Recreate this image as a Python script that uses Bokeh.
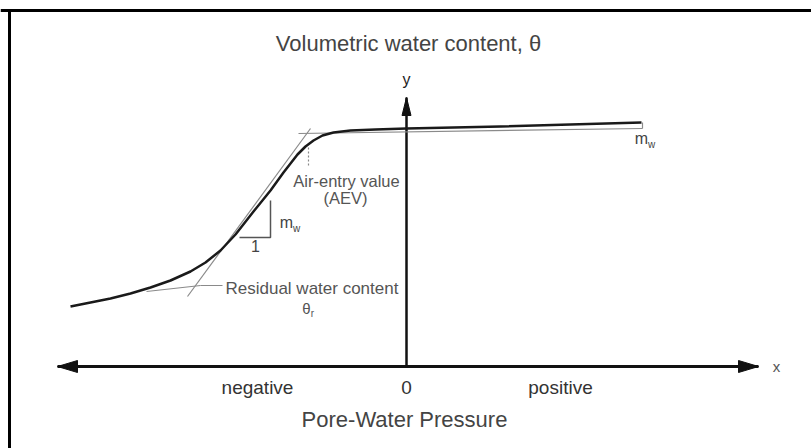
from bokeh.plotting import figure
from bokeh.models import Range1d
from bokeh.core.properties import value
from bokeh.embed import file_html
from bokeh.resources import INLINE

# ---- data (schematic soil-water characteristic curve) ----
# pore-water pressure (x) and volumetric water content (y), arbitrary units
pressure = [-3.36, -3.16, -2.96, -2.76, -2.56, -2.36, -2.16, -2.01, -1.86, -1.71,
            -1.53, -1.36, -1.23, -1.09, -1.01, -0.93, -0.84, -0.73, -0.56, -0.31,
            0.0, 0.94, 2.35]
theta = [0.60, 0.64, 0.68, 0.73, 0.79, 0.86, 0.95, 1.04, 1.16, 1.32,
         1.55, 1.76, 1.94, 2.12, 2.20, 2.26, 2.31, 2.34, 2.36, 2.37,
         2.38, 2.40, 2.44]

# construction lines
steep_tangent_x = [-2.19, -0.96]
steep_tangent_y = [0.70, 2.38]
residual_tangent_x = [-2.60, -2.06]
residual_tangent_y = [0.75, 0.81]
plateau_tangent_x = [-1.08, 2.36]
plateau_tangent_y = [2.33, 2.38]

tick_labels = ["negative", "0", "positive"]
tick_pos = [-1.49, 0.0, 1.54]

FONT = value("Liberation Sans")

p = figure(width=811, height=448, output_backend="svg", toolbar_location=None,
           x_range=Range1d(-4.06, 4.05), y_range=Range1d(-0.82, 3.66),
           min_border=0, outline_line_color=None)
p.axis.visible = False
p.grid.visible = False
p.background_fill_color = "white"
p.border_fill_color = "white"

# frame (top and left edges of the cropped figure)
p.line([-4.06, 4.05], [3.56, 3.56], line_color="black", line_width=3)
p.line([-3.97, -3.97], [3.56, -0.82], line_color="black", line_width=3)

# axes with arrowheads
x_axis_x = [-3.49, 3.52]
y_axis_top = 2.69
p.line(x_axis_x, [0, 0], line_color="#111111", line_width=3)
p.line([0, 0], [0, y_axis_top], line_color="#111111", line_width=2.5)
hl, hw = 0.20, 0.06
p.patch([x_axis_x[0], x_axis_x[0] + hl, x_axis_x[0] + hl],
        [0, hw, -hw], color="#111111")
p.patch([x_axis_x[1], x_axis_x[1] - hl, x_axis_x[1] - hl],
        [0, hw, -hw], color="#111111")
p.patch([0, -0.045, 0.045], [y_axis_top, y_axis_top - 0.18, y_axis_top - 0.18],
        color="#111111")

# construction lines (thin grey)
grey = "#8a8a8a"
p.line(steep_tangent_x, steep_tangent_y, line_color=grey, line_width=1.2)
p.line(residual_tangent_x, residual_tangent_y, line_color=grey, line_width=1.2)
p.line([-2.06, -1.84], [0.81, 0.81], line_color=grey, line_width=1.2)
p.line(plateau_tangent_x, plateau_tangent_y, line_color=grey, line_width=1.2)
p.line([2.36, 2.36], [2.38, 2.44], line_color=grey, line_width=1.2)
p.line([-0.98, -0.98], [2.19, 1.99], line_color=grey, line_width=1.2, line_dash="2 2")

# slope triangle
p.line([-1.67, -1.36, -1.36], [1.29, 1.29, 1.66], line_color="#555555", line_width=1.5)

# main curve
p.line(pressure, theta, line_color="#1a1a1a", line_width=2.5, line_join="round")

def txt(x, y, s, size, color="#444444", align="center", baseline="middle"):
    p.text([x], [y], text=[s], text_font=FONT, text_font_size=size,
           text_color=color, text_align=align, text_baseline=baseline)

txt(0.02, 3.23, "Volumetric water content, θ", "22px")
txt(0.0, 2.87, "y", "16px", color="#222222")
txt(3.70, 0.0, "x", "15px", color="#555555")
txt(-0.60, 1.86, "Air-entry value", "16.5px", color="#555555")
txt(-0.61, 1.69, "(AEV)", "16.5px", color="#555555")
txt(-1.20, 1.44, "m", "16px", color="#444444")
txt(-1.10, 1.38, "w", "10px", color="#444444")
txt(-1.51, 1.21, "1", "16px", color="#444444")
txt(-1.81, 0.78, "Residual water content", "17px", color="#555555", align="left")
txt(-1.00, 0.58, "θ", "15px", color="#555555")
txt(-0.94, 0.53, "r", "10px", color="#555555")
txt(2.35, 2.28, "m", "16px", color="#444444")
txt(2.45, 2.22, "w", "10px", color="#444444")
for pos, lab in zip(tick_pos, tick_labels):
    txt(pos, -0.21, lab, "19px", color="#333333")
txt(-0.02, -0.53, "Pore-Water Pressure", "22px", color="#444444")

open("out.html", "w").write(file_html(p, INLINE))
